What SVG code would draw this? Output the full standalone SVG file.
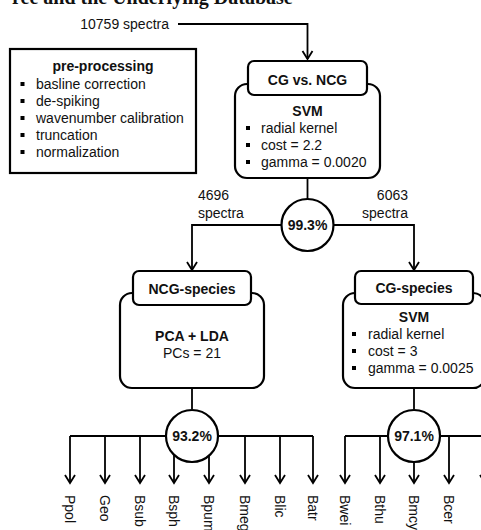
<svg xmlns="http://www.w3.org/2000/svg" width="481" height="530" viewBox="0 0 481 530">
<defs>
<style>
text{font-family:"Liberation Sans",Arial,sans-serif;font-size:14px;fill:#111}
.b{font-weight:bold}
.c{text-anchor:middle}
.box{fill:#fff;stroke:#000;stroke-width:2.2}
.ln{fill:none;stroke:#000;stroke-width:1.8}
.bl{fill:#000}
.leaf{dominant-baseline:central}
.title{font-family:"Liberation Serif","Times New Roman",serif;font-size:20px;font-weight:bold}
</style>
<marker id="ar" viewBox="-10 -7 12 14" refX="0" refY="0" markerWidth="12" markerHeight="14" markerUnits="userSpaceOnUse" orient="auto">
<path d="M-8,-5 L0,0 L-8,5" fill="none" stroke="#000" stroke-width="1.8"/>
</marker>
</defs>
<rect width="481" height="530" fill="#fff"/>
<text class="title" x="12" y="4">ree and the Underlying Database</text>

<g id="connectors">
<polyline class="ln" points="178,24 307.5,24 307.5,59" marker-end="url(#ar)"/>
<line class="ln" x1="307.5" y1="178" x2="307.5" y2="199"/>
<polyline class="ln" points="282,225 192,225 192,270" marker-end="url(#ar)"/>
<polyline class="ln" points="333,225 414,225 414,270" marker-end="url(#ar)"/>
<line class="ln" x1="192" y1="388" x2="192" y2="409"/>
<line class="ln" x1="414" y1="388" x2="414" y2="409"/>
<line class="ln" x1="70" y1="436" x2="313" y2="436"/>
<line class="ln" x1="70" y1="436" x2="70" y2="483" marker-end="url(#ar)"/>
<line class="ln" x1="105" y1="436" x2="105" y2="483" marker-end="url(#ar)"/>
<line class="ln" x1="140" y1="436" x2="140" y2="483" marker-end="url(#ar)"/>
<line class="ln" x1="174" y1="436" x2="174" y2="483" marker-end="url(#ar)"/>
<line class="ln" x1="209" y1="436" x2="209" y2="483" marker-end="url(#ar)"/>
<line class="ln" x1="245" y1="436" x2="245" y2="483" marker-end="url(#ar)"/>
<line class="ln" x1="280" y1="436" x2="280" y2="483" marker-end="url(#ar)"/>
<line class="ln" x1="313" y1="436" x2="313" y2="483" marker-end="url(#ar)"/>
<line class="ln" x1="345" y1="436" x2="490" y2="436"/>
<line class="ln" x1="345" y1="436" x2="345" y2="483" marker-end="url(#ar)"/>
<line class="ln" x1="380" y1="436" x2="380" y2="483" marker-end="url(#ar)"/>
<line class="ln" x1="414" y1="436" x2="414" y2="483" marker-end="url(#ar)"/>
<line class="ln" x1="449" y1="436" x2="449" y2="483" marker-end="url(#ar)"/>
<line class="ln" x1="485" y1="436" x2="485" y2="483" marker-end="url(#ar)"/>
</g>

<g id="input">
<text x="169" y="29" text-anchor="end">10759 spectra</text>
</g>

<g id="preprocessing">
<rect class="box" x="10" y="49" width="186" height="124"/>
<text class="b c" x="103" y="71">pre-processing</text>
<rect class="bl" x="20.5" y="82" width="4" height="4"/>
<rect class="bl" x="20.5" y="99" width="4" height="4"/>
<rect class="bl" x="20.5" y="116" width="4" height="4"/>
<rect class="bl" x="20.5" y="133" width="4" height="4"/>
<rect class="bl" x="20.5" y="150" width="4" height="4"/>
<text x="36" y="89">basline correction</text>
<text x="36" y="106">de-spiking</text>
<text x="36" y="123">wavenumber calibration</text>
<text x="36" y="140">truncation</text>
<text x="36" y="157">normalization</text>
</g>

<g id="cg-vs-ncg">
<rect class="box" x="235" y="84" width="145" height="94" rx="12"/>
<rect class="box" x="248" y="61" width="119" height="34" rx="6"/>
<text class="b c" x="307.5" y="85">CG vs. NCG</text>
<text class="b c" x="307.5" y="116">SVM</text>
<rect class="bl" x="246" y="126" width="4" height="4"/>
<rect class="bl" x="246" y="143" width="4" height="4"/>
<rect class="bl" x="246" y="160" width="4" height="4"/>
<text x="261" y="133">radial kernel</text>
<text x="261" y="150">cost = 2.2</text>
<text x="261" y="167">gamma = 0.0020</text>
</g>

<g id="acc1">
<circle class="box" cx="307.5" cy="225" r="26"/>
<text class="b c" x="307.5" y="230">99.3%</text>
<text x="198" y="200">4696</text>
<text x="198" y="218">spectra</text>
<text x="408" y="200" text-anchor="end">6063</text>
<text x="408" y="218" text-anchor="end">spectra</text>
</g>

<g id="ncg-species">
<rect class="box" x="120" y="293" width="144" height="95" rx="12"/>
<rect class="box" x="133" y="271" width="118" height="34" rx="6"/>
<text class="b c" x="192" y="294">NCG-species</text>
<text class="b c" x="192" y="341">PCA + LDA</text>
<text class="c" x="192" y="358">PCs = 21</text>
</g>

<g id="cg-species">
<rect class="box" x="343" y="293" width="142" height="95" rx="12"/>
<rect class="box" x="355" y="271" width="118" height="33" rx="6"/>
<text class="b c" x="414" y="293">CG-species</text>
<text class="b c" x="414" y="322">SVM</text>
<rect class="bl" x="352" y="332" width="4" height="4"/>
<rect class="bl" x="352" y="349" width="4" height="4"/>
<rect class="bl" x="352" y="366" width="4" height="4"/>
<text x="368" y="339">radial kernel</text>
<text x="368" y="356">cost = 3</text>
<text x="368" y="373">gamma = 0.0025</text>
</g>

<g id="acc2">
<circle class="box" cx="192" cy="436" r="26"/>
<text class="b c" x="192" y="441">93.2%</text>
</g>
<g id="acc3">
<circle class="box" cx="414" cy="436" r="26"/>
<text class="b c" x="414" y="441">97.1%</text>
</g>

<g id="leaves">
<text class="leaf" transform="translate(70,495) rotate(90)">Ppol</text>
<text class="leaf" transform="translate(105,495) rotate(90)">Geo</text>
<text class="leaf" transform="translate(140,495) rotate(90)">Bsub</text>
<text class="leaf" transform="translate(174,495) rotate(90)">Bsph</text>
<text class="leaf" transform="translate(209,495) rotate(90)">Bpum</text>
<text class="leaf" transform="translate(245,495) rotate(90)">Bmeg</text>
<text class="leaf" transform="translate(280,495) rotate(90)">Blic</text>
<text class="leaf" transform="translate(313,495) rotate(90)">Batr</text>
<text class="leaf" transform="translate(345,495) rotate(90)">Bwei</text>
<text class="leaf" transform="translate(380,495) rotate(90)">Bthu</text>
<text class="leaf" transform="translate(414,495) rotate(90)">Bmcy</text>
<text class="leaf" transform="translate(449,495) rotate(90)">Bcer</text>
</g>
</svg>
